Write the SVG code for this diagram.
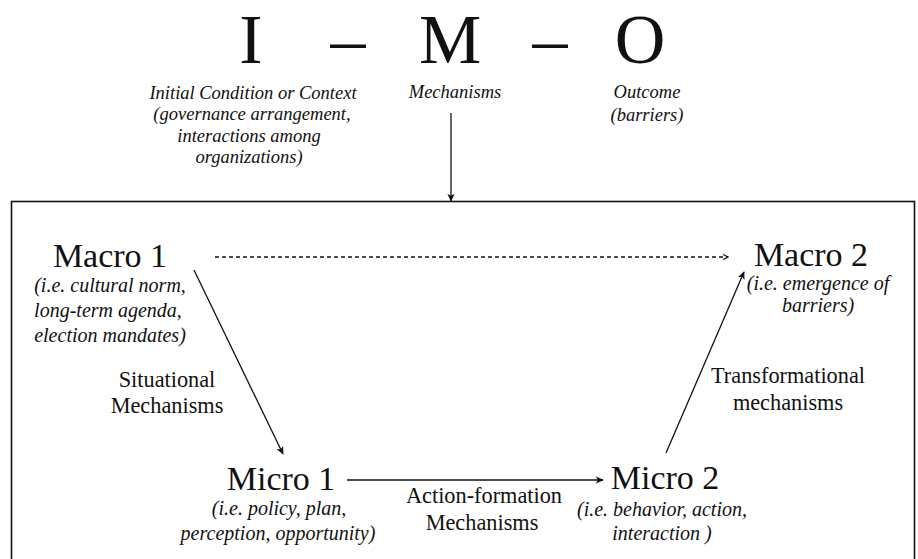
<svg xmlns="http://www.w3.org/2000/svg" width="918" height="559" viewBox="0 0 918 559">
<style>
text{fill:#111;text-anchor:middle;font-family:"Liberation Serif",serif}
.t{font-size:70px}
.s{font-size:18.5px;font-style:italic}
.n{font-size:34px}
.d{font-size:20px;font-style:italic}
.l{font-size:22.3px}
.c{stroke:#111;stroke-width:1.3;fill:none}
</style>
<defs>
<marker id="ah" viewBox="0 0 10 10" refX="9" refY="5" markerWidth="8" markerHeight="8" markerUnits="userSpaceOnUse" orient="auto"><path d="M0,0.5 L10,5 L0,9.5 L2.5,5 z" fill="#111"/></marker>
<marker id="oh" viewBox="0 0 10 10" refX="9" refY="5" markerWidth="7" markerHeight="7" markerUnits="userSpaceOnUse" orient="auto"><path d="M2,1.5 L9,5 L2,8.5" fill="none" stroke="#111" stroke-width="1.6"/></marker>
</defs>
<rect width="918" height="559" fill="#fff"/>
<g id="title">
<text class="t" x="251" y="62.5">I</text>
<text class="t" x="348" y="62.5">–</text>
<text class="t" x="450" y="62.5">M</text>
<text class="t" x="550" y="62.5">–</text>
<text class="t" x="640" y="62.5">O</text>
</g>
<g id="imo-labels">
<text class="s" x="253" y="99">Initial Condition or Context</text>
<text class="s" x="252" y="120">(governance arrangement,</text>
<text class="s" x="249" y="142">interactions among</text>
<text class="s" x="249" y="163">organizations)</text>
<text class="s" x="455" y="98">Mechanisms</text>
<text class="s" x="647" y="98">Outcome</text>
<text class="s" x="647" y="121">(barriers)</text>
</g>
<rect id="frame" x="11.5" y="201.5" width="903" height="370" fill="none" stroke="#111" stroke-width="1.6"/>
<g id="macro1">
<text class="n" x="110" y="267">Macro 1</text>
<text class="d" x="110" y="292">(i.e. cultural norm,</text>
<text class="d" x="108" y="317">long-term agenda,</text>
<text class="d" x="110" y="342">election mandates)</text>
</g>
<g id="macro2">
<text class="n" x="811" y="266">Macro 2</text>
<text class="d" x="818" y="290">(i.e. emergence of</text>
<text class="d" x="818" y="312">barriers)</text>
</g>
<g id="micro1">
<text class="n" x="281" y="490">Micro 1</text>
<text class="d" x="279" y="515">(i.e. policy, plan,</text>
<text class="d" x="278" y="540">perception, opportunity)</text>
</g>
<g id="micro2">
<text class="n" x="665" y="489">Micro 2</text>
<text class="d" x="662" y="516">(i.e. behavior, action,</text>
<text class="d" x="662" y="540">interaction )</text>
</g>
<g id="connectors">
<line class="c" x1="451" y1="113" x2="451" y2="201" stroke-width="2" marker-end="url(#ah)"/>
<line class="c" x1="215" y1="257" x2="728" y2="257" stroke-dasharray="4,3" marker-end="url(#oh)"/>
<line class="c" x1="194" y1="270" x2="283" y2="454" marker-end="url(#ah)"/>
<line class="c" x1="347" y1="480" x2="603" y2="480" marker-end="url(#ah)"/>
<line class="c" x1="666" y1="453" x2="744" y2="272" marker-end="url(#ah)"/>
</g>
<g id="edge-labels">
<text class="l" x="167" y="387">Situational</text>
<text class="l" x="167" y="413">Mechanisms</text>
<text class="l" x="484" y="503">Action-formation</text>
<text class="l" x="482" y="530">Mechanisms</text>
<text class="l" x="788" y="383">Transformational</text>
<text class="l" x="788" y="410">mechanisms</text>
</g>
</svg>
